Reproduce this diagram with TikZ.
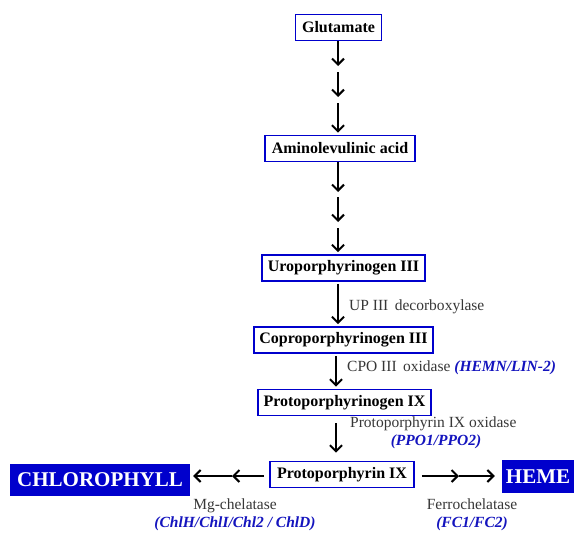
\documentclass[tikz,border=0pt]{standalone}
\usepackage{fontspec}
\setmainfont{Liberation Serif}
\usetikzlibrary{arrows.meta}
\definecolor{boxblue}{RGB}{0,0,204}
\definecolor{labblue}{RGB}{20,20,190}
\definecolor{labgray}{RGB}{55,55,55}
\begin{document}
\begin{tikzpicture}[x=1pt,y=-1pt,
  stepbox/.style={draw=boxblue, line width=1.8pt, fill=white, inner sep=0pt,
    minimum height=26pt, font=\fontsize{16}{19}\selectfont\bfseries},
  endbox/.style={fill=boxblue, text=white, inner sep=0pt,
    font=\fontsize{21}{25}\selectfont\bfseries},
  arr/.style={line width=2pt, -{Straight Barb[length=6pt,width=12pt]}},
  enz/.style={text=labgray, font=\fontsize{15.5}{17}\selectfont, inner sep=0pt},
  gene/.style={text=labblue, font=\fontsize{15.5}{17}\selectfont\bfseries\itshape, inner sep=0pt},
  genetxt/.style={text=labblue, font=\bfseries\itshape}]
\useasboundingbox[fill=white] (0,0) rectangle (577,533);
% pathway boxes
\node[stepbox, minimum width=86pt]  (glu)  at (338.5,27.5) {Glutamate};
\node[stepbox, minimum width=150pt] (ala)  at (340,148.5) {Aminolevulinic acid};
\node[stepbox, minimum width=163pt] (uro)  at (343.5,268) {Uroporphyrinogen III};
\node[stepbox, minimum width=179pt] (copro) at (343.5,340) {Coproporphyrinogen III};
\node[stepbox, minimum width=173pt] (protogen) at (344.5,402.5) {Protoporphyrinogen IX};
\node[stepbox, minimum width=144pt] (proto) at (342,474.5) {Protoporphyrin IX};
\node[endbox, minimum width=180pt, minimum height=32pt] (chl) at (100,480) {CHLOROPHYLL};
\node[endbox, minimum width=72pt, minimum height=33pt] (heme) at (538,476.5) {HEME};
% intermediate points
\coordinate (g1) at (338,66);  \coordinate (g2) at (338,72);
\coordinate (g3) at (338,97);  \coordinate (g4) at (338,103);
\coordinate (a1) at (338,192); \coordinate (a2) at (338,197);
\coordinate (a3) at (338,222); \coordinate (a4) at (338,228);
\coordinate (lm) at (232,476);
\coordinate (rm) at (459,476);
% arrows
\draw[arr] (glu.south -| g1) -- (g1);
\draw[arr] (g2) -- (g3);
\draw[arr, shorten >=2pt] (g4) -- (ala.north -| g4);
\draw[arr] (ala.south -| a1) -- (a1);
\draw[arr] (a2) -- (a3);
\draw[arr, shorten >=2pt] (a4) -- (uro.north -| a4);
\draw[arr, shorten <=2pt, shorten >=2pt] (uro.south -| g1) -- (copro.north -| g1);
\draw[arr, shorten <=2pt, shorten >=2pt] (copro.south -| 336,0) -- (protogen.north -| 336,0);
\draw[arr, shorten <=7pt, shorten >=8pt] (protogen.south -| 336,0) -- (proto.north -| 336,0);
\draw[arr, shorten <=5pt] (proto.west |- lm) -- (lm);
\draw[arr, shorten >=3pt] (lm) -- (chl.east |- lm);
\draw[arr, shorten <=7pt] (proto.east |- rm) -- (rm);
\draw[arr, shorten >=7pt] (rm) -- (heme.west |- rm);
% enzyme labels
\node[enz, anchor=west] (e1) at (349,307) {UP III\, decorboxylase};
\node[enz, anchor=west] (e2) at (347,368) {CPO III\, oxidase \textcolor{labblue}{\bfseries\itshape (HEMN/LIN-2)}};
\node[enz, anchor=west] (e3) at (350,424) {Protoporphyrin IX oxidase};
\node[gene] (g3l) at (436,442) {(PPO1/PPO2)};
\node[enz, align=center] (e4) at (235,515) {Mg-chelatase\\[0.5pt]\textcolor{labblue}{\bfseries\itshape (ChlH/ChlI/Chl2 / ChlD)}};
\node[enz, align=center] (e5) at (472,515) {Ferrochelatase\\[0.5pt]\textcolor{labblue}{\bfseries\itshape (FC1/FC2)}};
\end{tikzpicture}
\end{document}
